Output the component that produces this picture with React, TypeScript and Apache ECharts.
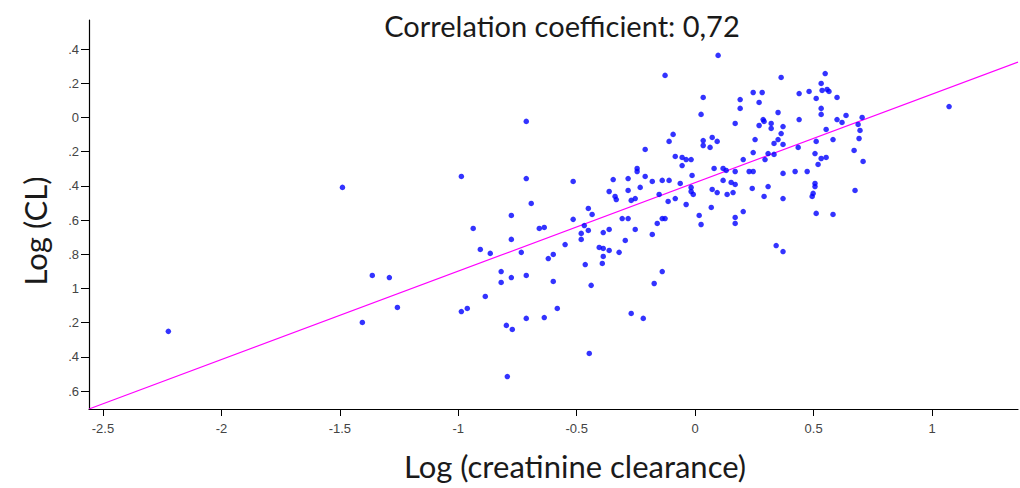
import React, { useEffect, useRef } from "react";
import * as echarts from "echarts";

const titleText = "Correlation coefficient: 0,72";
const xName = "Log (creatinine clearance)";
const yName = "Log (CL)";

const xTicks = [-2.5, -2, -1.5, -1, -0.5, 0, 0.5, 1];
const xTickLabels = ["-2.5", "-2", "-1.5", "-1", "-0.5", "0", "0.5", "1"];
const yTicks = [0.4, 0.2, 0, -0.2, -0.4, -0.6, -0.8, -1, -1.2, -1.4, -1.6];
const yTickLabels = [".4", ".2", "0", ".2", ".4", ".6", ".8", "1", ".2", ".4", ".6"];

const xRange = [-2.559, 1.363];
const yRange = [-1.705, 0.57];

// regression line end points
const regLine = [
  [-2.559, -1.705],
  [1.363, 0.324],
];

const points: number[][] = [
  [-2.224, -1.251], [-1.489, -0.409], [-0.987, -0.345], [-1.363, -0.924], [-1.291, -0.936],
  [-1.257, -1.111], [-1.405, -1.199], [-0.987, -1.135], [-0.962, -1.117],
  [-0.713, -0.023], [-0.713, -0.357], [-0.515, -0.374], [-0.346, -0.363], [-0.283, -0.357],
  [-0.363, -0.433], [-0.283, -0.427], [-0.338, -0.462], [-0.333, -0.48], [-0.692, -0.503],
  [-0.451, -0.532], [-0.435, -0.567], [-0.776, -0.573], [-0.515, -0.596], [-0.308, -0.591],
  [-0.283, -0.591], [-0.937, -0.649], [-0.658, -0.649], [-0.637, -0.643], [-0.468, -0.632],
  [-0.451, -0.661], [-0.388, -0.673], [-0.363, -0.655], [-0.481, -0.678], [-0.776, -0.713],
  [-0.481, -0.713], [-0.295, -0.719], [-0.907, -0.772], [-0.865, -0.795], [-0.734, -0.789],
  [-0.549, -0.743], [-0.599, -0.801], [-0.62, -0.825], [-0.405, -0.76], [-0.388, -0.766],
  [-0.363, -0.778], [-0.321, -0.789], [-0.388, -0.813], [-0.392, -0.854], [-0.464, -0.86],
  [-0.819, -0.901], [-0.819, -0.965], [-0.776, -0.936], [-0.713, -0.924], [-0.599, -0.959],
  [-0.439, -0.982], [-0.886, -1.047], [-0.582, -1.117], [-0.713, -1.175], [-0.637, -1.17],
  [-0.797, -1.216], [-0.772, -1.24], [-0.27, -1.146], [-0.447, -1.38], [-0.793, -1.515],
  [-0.245, -0.298], [-0.232, -0.409], [-0.27, -0.485], [-0.253, -0.474], [-0.253, -0.655],
  [0.097, 0.363], [-0.127, 0.246], [0.034, 0.117], [0.245, 0.146], [0.19, 0.105],
  [0.19, 0.053], [0.27, 0.088], [0.025, 0.018], [0.169, -0.035], [0.27, -0.047],
  [-0.093, -0.099], [-0.11, -0.14], [0.072, -0.117], [0.034, -0.135], [0.034, -0.164],
  [0.093, -0.14], [0.063, -0.175], [0.253, -0.129], [-0.211, -0.187], [0.245, -0.205],
  [-0.084, -0.228], [-0.055, -0.234], [-0.038, -0.246], [-0.017, -0.246], [-0.055, -0.281],
  [0.203, -0.246], [-0.245, -0.316], [0.08, -0.298], [0.118, -0.298], [0.131, -0.31],
  [0.169, -0.316], [0.228, -0.316], [0.245, -0.316], [-0.211, -0.345], [-0.181, -0.374],
  [-0.139, -0.368], [-0.11, -0.368], [-0.013, -0.339], [-0.063, -0.386], [0.118, -0.368],
  [0.152, -0.38], [0.169, -0.392], [0.241, -0.415], [-0.152, -0.45], [-0.084, -0.474],
  [-0.017, -0.409], [-0.017, -0.433], [-0.008, -0.45], [0.072, -0.421], [0.093, -0.439],
  [0.135, -0.45], [0.16, -0.439], [-0.114, -0.491], [-0.038, -0.509], [0.068, -0.526],
  [0.203, -0.55], [0.017, -0.573], [0.025, -0.626], [0.169, -0.585], [0.169, -0.62],
  [-0.16, -0.62], [-0.139, -0.591], [-0.127, -0.591], [-0.181, -0.684], [-0.139, -0.901],
  [-0.173, -0.971], [-0.219, -1.175], [0.342, -0.749], [0.371, -0.784],
  [0.363, 0.234], [0.549, 0.257], [0.532, 0.199], [0.536, 0.158], [0.557, 0.164],
  [0.565, 0.152], [0.283, 0.146], [0.439, 0.14], [0.481, 0.152], [0.511, 0.111],
  [0.599, 0.117], [0.532, 0.053], [0.532, 0.018], [0.35, 0.029], [0.637, 0.012],
  [0.705, 0.0], [1.072, 0.064], [0.287, -0.012], [0.291, -0.023], [0.321, -0.035],
  [0.321, -0.064], [0.371, -0.053], [0.439, -0.012], [0.599, -0.012], [0.62, -0.029],
  [0.688, -0.041], [0.696, -0.076], [0.363, -0.094], [0.553, -0.07], [0.35, -0.129],
  [0.333, -0.152], [0.371, -0.158], [0.511, -0.14], [0.582, -0.129], [0.692, -0.123],
  [0.308, -0.211], [0.295, -0.246], [0.333, -0.216], [0.435, -0.175], [0.506, -0.211],
  [0.532, -0.24], [0.553, -0.234], [0.519, -0.275], [0.671, -0.193], [0.709, -0.257],
  [0.371, -0.327], [0.422, -0.316], [0.473, -0.316], [0.506, -0.386], [0.506, -0.404],
  [0.498, -0.444], [0.494, -0.462], [0.308, -0.404], [0.291, -0.462], [0.371, -0.474],
  [0.675, -0.427], [0.511, -0.561], [0.582, -0.567],
];

const labelFont = "'Liberation Sans', Arial, sans-serif";
const nameFont = "Lato, 'Open Sans', sans-serif";

export default function App() {
  const ref = useRef<HTMLDivElement>(null);
  useEffect(() => {
    if (!ref.current) return;
    const chart = echarts.init(ref.current, null, { renderer: "svg" });
    chart.setOption({
      animation: false,
      backgroundColor: "#ffffff",
      grid: { left: 89, top: 20, right: 2, bottom: 79, containLabel: false },
      xAxis: {
        type: "value",
        min: xRange[0],
        max: xRange[1],
        splitLine: { show: false },
        axisLine: { show: true, onZero: false, lineStyle: { color: "#000", width: 1.2 } },
        axisTick: { show: true, customValues: xTicks, length: 7, lineStyle: { color: "#000" } },
        axisLabel: {
          customValues: xTicks,
          margin: 13,
          color: "#444",
          fontSize: 13,
          fontFamily: labelFont,
          formatter: (v: number) => {
            const i = xTicks.findIndex((t) => Math.abs(t - v) < 1e-6);
            return i >= 0 ? xTickLabels[i] : "";
          },
        },
      },
      yAxis: {
        type: "value",
        min: yRange[0],
        max: yRange[1],
        splitLine: { show: false },
        axisLine: { show: true, onZero: false, lineStyle: { color: "#000", width: 1.2 } },
        axisTick: { show: true, customValues: yTicks, length: 8, lineStyle: { color: "#000" } },
        axisLabel: {
          customValues: yTicks,
          margin: 10,
          color: "#444",
          fontSize: 13,
          fontFamily: labelFont,
          formatter: (v: number) => {
            const i = yTicks.findIndex((t) => Math.abs(t - v) < 1e-6);
            return i >= 0 ? yTickLabels[i] : "";
          },
        },
      },
      graphic: [
        {
          type: "text",
          x: 562,
          y: 25,
          style: {
            text: titleText,
            font: `29px ${nameFont}`,
            fill: "#1a1a1a",
            textAlign: "center",
            textVerticalAlign: "middle",
          },
        },
        {
          type: "text",
          x: 575,
          y: 466,
          style: {
            text: xName,
            font: `31px ${nameFont}`,
            fill: "#1a1a1a",
            textAlign: "center",
            textVerticalAlign: "middle",
          },
        },
        {
          type: "text",
          x: 35,
          y: 231,
          rotation: Math.PI / 2,
          style: {
            text: yName,
            font: `31px ${nameFont}`,
            fill: "#1a1a1a",
            textAlign: "center",
            textVerticalAlign: "middle",
          },
        },
      ],
      series: [
        {
          type: "line",
          data: regLine,
          symbol: "none",
          lineStyle: { color: "#ff00ff", width: 1.2 },
          z: 1,
        },
        {
          type: "scatter",
          data: points,
          symbol: "circle",
          symbolSize: 5.5,
          itemStyle: { color: "#0000ff" },
          z: 2,
        },
      ],
    });
    return () => chart.dispose();
  }, []);
  return (
    <div
      ref={ref}
      style={{ position: "fixed", left: 0, top: 0, width: 1020, height: 488, background: "#fff" }}
    />
  );
}
